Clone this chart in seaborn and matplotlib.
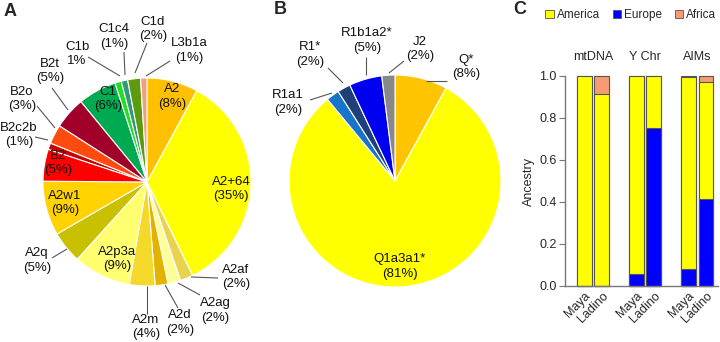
import matplotlib
matplotlib.use("Agg")
import matplotlib.pyplot as plt
from matplotlib.patches import Patch
import seaborn as sns
import pandas as pd

# ---------------- data ----------------
A_labels = ["A2", "A2+64", "A2af", "A2ag", "A2d", "A2m", "A2p3a", "A2q", "A2w1",
            "B2", "B2c2b", "B2o", "B2t", "C1", "C1b", "C1c4", "C1d", "L3b1a"]
A_values = [8, 35, 2, 2, 2, 4, 9, 5, 8.5, 5, 1, 3, 5, 6, 1, 1, 2, 1]
A_pct = ["(8%)", "(35%)", "(2%)", "(2%)", "(2%)", "(4%)", "(9%)", "(5%)", "(9%)",
         "(5%)", "(1%)", "(3%)", "(5%)", "(6%)", "1%", "(1%)", "(2%)", "(1%)"]

B_labels = ["Q*", "Q1a3a1*", "R1a1", "R1*", "R1b1a2*", "J2"]
B_values = [8, 81, 2, 2, 5, 2]
B_pct = ["(8%)", "(81%)", "(2%)", "(2%)", "(5%)", "(2%)"]

C_groups = ["mtDNA", "Y Chr", "AIMs"]
C_pops = ["Maya", "Ladino", "Maya", "Ladino", "Maya", "Ladino"]
C_europe = [0.0, 0.0, 0.056, 0.754, 0.081, 0.414]
C_america = [1.0, 0.913, 0.944, 0.246, 0.914, 0.556]
C_africa = [0.0, 0.087, 0.0, 0.0, 0.005, 0.030]

# ---------------- style ----------------
sns.set_style("ticks")
plt.rcParams["font.family"] = ["Liberation Sans", "DejaVu Sans"]

A_colors = ["#FFC000", "#FFFF00", "#E8D24E", "#FFFF99", "#E2B400", "#F4D82A",
            "#FFFF70", "#C8C000", "#FFD200", "#FF0000", "#C80000", "#FF4A10",
            "#A0002A", "#00AA50", "#22DD22", "#2E9A78", "#5E9A10", "#F4A080"]
B_colors = ["#FFC400", "#FFFF00", "#1874C8", "#1F3F7A", "#0000F0", "#888888"]

fig = plt.figure(figsize=(7.2, 3.42), dpi=100)
H = 342

# canvas axes in pixel coordinates for the two pies
ax = fig.add_axes([0, 0, 1, 1])
ax.set_xlim(0, 720)
ax.set_ylim(0, H)
ax.axis("off")

wp = dict(edgecolor="white", linewidth=0.8)
ax.pie(A_values, colors=A_colors, startangle=90, counterclock=False,
       center=(147, H - 182), radius=104, wedgeprops=wp, frame=True)
ax.pie(B_values, colors=B_colors, startangle=90, counterclock=False,
       center=(395, H - 181), radius=106, wedgeprops=wp, frame=True)
ax.set_xlim(0, 720)
ax.set_ylim(0, H)
ax.axis("off")

FS = 9.5
lc = "#555555"


def lab(name, pct, x, y, gap=14.5, ha="center"):
    ax.text(x, H - y, name, ha=ha, va="center", fontsize=FS, color="#111111")
    ax.text(x if ha == "center" else x + 5, H - y - gap, pct, ha=ha, va="center",
            fontsize=FS, color="#111111")


def lead(x1, y1, x2, y2):
    ax.plot([x1, x2], [H - y1, H - y2], color=lc, lw=0.8, solid_capstyle="butt")


# panel A labels
pos_A = {
    "A2": (172, 89), "A2+64": (231, 182), "A2af": (236, 270), "A2ag": (215, 303),
    "A2d": (180, 315), "A2m": (146, 320), "A2p3a": (117, 252), "A2q": (37, 253),
    "A2w1": (65, 196), "B2": (58, 156), "B2c2b": (0, 128), "B2o": (22, 92),
    "B2t": (50, 64), "C1": (108, 92), "C1b": (77, 47), "C1c4": (114, 29),
    "C1d": (153, 22), "L3b1a": (189, 43),
}
for name, pct in zip(A_labels, A_pct):
    x, y = pos_A[name]
    lab(name, pct, x, y, ha="left" if name == "B2c2b" else "center")

lead(218, 278, 191, 277)   # A2af
lead(200, 295, 178, 283)   # A2ag
lead(178, 308, 165, 285)   # A2d
lead(147, 314, 147, 286)   # A2m
lead(52, 258, 67, 249)     # A2q
lead(35, 137, 48, 140)     # B2c2b
lead(37, 106, 55, 128)     # B2o
lead(52, 88, 68, 110)      # B2t
lead(88, 57, 120, 76)      # C1b
lead(124, 52, 125, 75)     # C1c4
lead(147, 43, 135, 73)     # C1d
lead(170, 61, 146, 76)     # L3b1a

# panel B labels
pos_B = {
    "Q*": (466, 60), "Q1a3a1*": (400, 259), "R1a1": (288, 95), "R1*": (310, 47),
    "R1b1a2*": (367, 33), "J2": (420, 42),
}
for name, pct in zip(B_labels, B_pct):
    x, y = pos_B[name]
    lab(name, pct, x, y)

lead(447, 81, 426, 81)     # Q*
lead(404, 61, 389, 73)     # J2
lead(366, 57, 366, 75)     # R1b1a2*
lead(328, 68, 343, 83)     # R1*
lead(310, 100, 332, 93)    # R1a1

# panel letters
ax.text(10, H - 11, "A", fontsize=13, fontweight="bold", ha="center", va="center")
ax.text(280, H - 9, "B", fontsize=13, fontweight="bold", ha="center", va="center")
ax.text(520, H - 9, "C", fontsize=13, fontweight="bold", ha="center", va="center")

# ---------------- panel C ----------------
FC = 9
axc = fig.add_axes([565 / 720, (H - 286) / H, (718 - 565) / 720, 210 / H])
xpos = [0, 1, 3, 4, 6, 7]
df = pd.DataFrame({
    "x": xpos,
    "pop": C_pops,
    "eu": C_europe,
    "eu_am": [e + a for e, a in zip(C_europe, C_america)],
    "tot": [e + a + f for e, a, f in zip(C_europe, C_america, C_africa)],
})
bar_kw = dict(native_scale=True, width=0.86, saturation=1, errorbar=None,
              edgecolor="#555555", linewidth=0.8, ax=axc)
sns.barplot(data=df, x="x", y="tot", color="#F79C72", **bar_kw)
sns.barplot(data=df, x="x", y="eu_am", color="#FFFF00", **bar_kw)
sns.barplot(data=df, x="x", y="eu", color="#0000FF", **bar_kw)

axc.set_xlim(-1.12, 7.69)
axc.set_ylim(0, 1.0)
axc.set_xticks(xpos)
axc.set_xticklabels(C_pops, rotation=45, ha="right", va="top",
                    rotation_mode="anchor", fontsize=FC)
axc.tick_params(axis="x", length=0, pad=3)
axc.set_yticks([0, 0.2, 0.4, 0.6, 0.8, 1.0])
axc.set_yticklabels(["0.0", "0.2", "0.4", "0.6", "0.8", "1.0"], fontsize=FC)
axc.tick_params(axis="y", length=4, width=0.8, color="#777777", pad=2)
axc.set_xlabel("")
axc.set_ylabel("Ancestry", fontsize=FC, labelpad=3)
for s in ["top", "right"]:
    axc.spines[s].set_visible(False)
for s in ["left", "bottom"]:
    axc.spines[s].set_color("#777777")
    axc.spines[s].set_linewidth(1.0)
for p in axc.patches:
    p.set_clip_on(False)

for gx, g in zip([0.5, 3.5, 6.5], C_groups):
    axc.text(gx, 1.09, g, ha="center", va="center", fontsize=FC)

handles = [Patch(facecolor="#FFFF00", edgecolor="#555555", lw=0.6, label="America"),
           Patch(facecolor="#0000FF", edgecolor="#555555", lw=0.6, label="Europe"),
           Patch(facecolor="#F79C72", edgecolor="#555555", lw=0.6, label="Africa")]
fig.legend(handles=handles, loc="center right", bbox_to_anchor=(716 / 720, 1 - 15 / H),
           ncol=3, frameon=False, fontsize=8.5, handlelength=0.7, handleheight=0.7,
           handletextpad=0.25, columnspacing=1.1, borderaxespad=0, borderpad=0)

fig.savefig("out.png", dpi=100)
